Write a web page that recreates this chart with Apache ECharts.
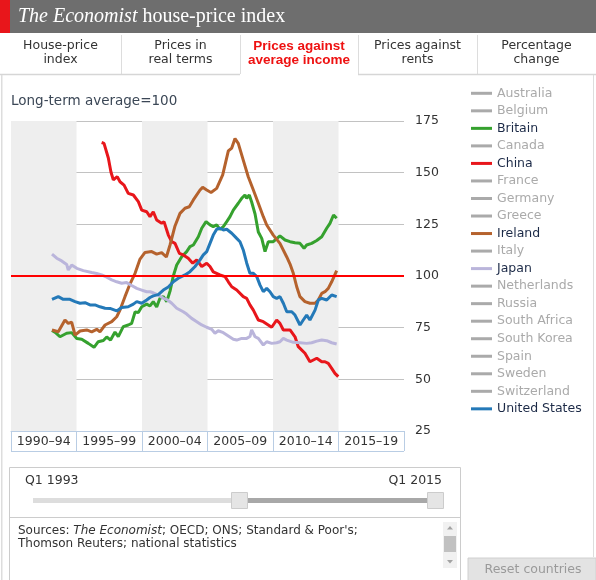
<!DOCTYPE html>
<html><head><meta charset="utf-8">
<script src="https://cdn.jsdelivr.net/npm/echarts@6/dist/echarts.min.js"></script>
<style>html,body{margin:0;padding:0;background:#fff}#c{width:596px;height:580px}</style>
</head><body><div id="c"></div>
<script>
const periodLabels = ['1990–94','1995–99','2000–04','2005–09','2010–14','2015–19'];
const yTicks = [25, 50, 75, 100, 125, 150, 175];
const shadedPeriods = [[1990, 1995], [2000, 2005], [2010, 2015]];
const countries = ['Australia','Belgium','Britain','Canada','China','France','Germany','Greece','Ireland','Italy','Japan','Netherlands','Russia','South Africa','South Korea','Spain','Sweden','Switzerland','United States'];
const activeColors = {'Britain':'#35a12e','China':'#e8161b','Ireland':'#b5622d','Japan':'#bab5db','United States':'#2479b8'};
const tabs = ['House-price\nindex','Prices in\nreal terms','Prices against\naverage income','Prices against\nrents','Percentage\nchange'];
const sliderLabels = ['Q1 1993','Q1 2015'];

const britain = [[1993.13,73.6],[1993.44,72.4],[1993.74,70.6],[1994.25,72.3],[1994.63,72.6],[1995.02,69.8],[1995.4,69.4],[1995.9,67.4],[1996.34,65.5],[1996.66,68.2],[1997.05,68.8],[1997.31,70.5],[1997.6,69.0],[1997.94,72.9],[1998.19,70.7],[1998.57,75.5],[1998.95,76.3],[1999.21,77.1],[1999.47,82.6],[1999.72,82.3],[1999.98,85.1],[2000.36,86.4],[2000.61,85.5],[2000.86,87.6],[2001.12,85.0],[2001.37,89.2],[2001.63,90.0],[2001.89,87.6],[2002.14,92.7],[2002.39,100.0],[2002.65,105.3],[2003.03,109.3],[2003.41,111.8],[2003.66,114.2],[2003.92,115.0],[2004.3,119.0],[2004.56,123.1],[2004.89,126.3],[2005.19,124.7],[2005.44,123.9],[2005.7,124.7],[2005.95,122.6],[2006.21,123.9],[2006.47,126.3],[2006.72,128.7],[2006.97,131.9],[2007.35,135.2],[2007.61,137.6],[2007.86,139.2],[2007.99,137.6],[2008.19,139.2],[2008.37,135.8],[2008.63,130.0],[2008.88,121.3],[2009.14,118.2],[2009.39,111.8],[2009.64,116.6],[2010.02,116.6],[2010.53,119.4],[2010.92,117.4],[2011.3,116.6],[2011.68,116.1],[2012.06,115.8],[2012.37,113.4],[2012.57,115.0],[2012.95,115.8],[2013.34,117.2],[2013.72,119.0],[2014.1,123.1],[2014.35,125.5],[2014.62,129.5],[2014.86,127.9]];

const china = [[1996.92,164.6],[1997.1,164.2],[1997.43,157.1],[1997.63,150.3],[1997.81,146.5],[1998.11,148.1],[1998.32,145.6],[1998.63,144.0],[1998.95,140.0],[1999.34,139.2],[1999.72,136.0],[1999.98,131.9],[2000.36,131.1],[2000.61,128.7],[2000.86,131.1],[2001.12,127.1],[2001.5,125.5],[2001.68,126.3],[2002.01,119.8],[2002.27,116.6],[2002.52,115.8],[2002.85,111.0],[2003.15,110.2],[2003.53,108.6],[2003.87,106.2],[2004.18,107.8],[2004.56,104.6],[2004.94,106.2],[2005.19,104.6],[2005.44,102.0],[2005.95,100.5],[2006.34,99.7],[2006.59,97.2],[2006.85,94.8],[2007.23,93.2],[2007.73,90.0],[2007.99,89.2],[2008.24,86.0],[2008.5,83.5],[2008.88,78.7],[2009.26,77.9],[2009.9,75.2],[2010.28,78.7],[2010.53,77.1],[2010.79,73.9],[2011.3,73.9],[2011.68,70.6],[2011.93,65.8],[2012.44,62.6],[2012.82,58.5],[2013.34,60.2],[2013.72,58.5],[2013.97,58.5],[2014.22,57.7],[2014.48,55.3],[2014.73,52.9],[2014.98,51.3]];

const ireland = [[1993.13,73.9],[1993.61,73.0],[1994.12,78.7],[1994.37,77.1],[1994.63,77.7],[1994.89,71.4],[1995.27,73.4],[1995.78,73.9],[1996.16,73.0],[1996.54,74.2],[1996.79,73.0],[1997.18,76.3],[1997.69,77.9],[1998.07,80.3],[1998.32,83.5],[1998.7,90.0],[1999.08,96.1],[1999.47,101.3],[1999.85,108.2],[2000.23,111.4],[2000.74,111.8],[2001.12,110.6],[2001.5,111.3],[2001.86,109.2],[2002.14,115.0],[2002.52,124.2],[2002.9,130.3],[2003.28,132.8],[2003.61,133.5],[2003.92,136.8],[2004.43,141.6],[2004.63,142.9],[2004.94,141.6],[2005.27,140.4],[2005.7,142.4],[2006.16,148.9],[2006.59,160.5],[2006.85,161.9],[2007.1,166.5],[2007.35,164.2],[2007.73,156.1],[2008.11,148.0],[2008.5,141.6],[2008.88,135.2],[2009.26,128.7],[2009.52,124.7],[2010.02,119.8],[2010.53,115.8],[2011.05,109.2],[2011.3,105.8],[2011.55,101.3],[2011.81,94.8],[2012.06,90.0],[2012.44,87.6],[2012.82,86.8],[2013.21,86.8],[2013.46,88.4],[2013.72,91.6],[2013.97,92.4],[2014.22,94.0],[2014.48,97.2],[2014.86,102.6]];

const japan = [[1993.13,110.6],[1993.49,108.6],[1993.87,107.3],[1994.25,105.6],[1994.37,102.9],[1994.63,105.3],[1995.02,103.7],[1995.52,102.6],[1996.16,101.7],[1996.54,101.2],[1996.92,100.5],[1997.31,99.4],[1997.69,98.1],[1998.07,97.2],[1998.45,96.5],[1998.83,96.8],[1999.21,95.4],[1999.6,94.0],[1999.98,93.2],[2000.36,92.4],[2000.61,92.4],[2000.86,91.9],[2001.24,90.8],[2001.63,89.2],[2001.95,88.4],[2002.27,86.8],[2002.65,84.4],[2003.15,82.7],[2003.41,81.6],[2003.79,79.5],[2004.18,77.9],[2004.56,76.3],[2004.94,75.2],[2005.32,74.2],[2005.57,72.3],[2005.82,73.5],[2006.21,72.6],[2006.59,71.0],[2006.97,69.4],[2007.23,69.0],[2007.61,69.8],[2007.99,69.8],[2008.24,70.7],[2008.37,73.9],[2008.63,70.6],[2008.88,69.8],[2009.26,66.6],[2009.52,68.2],[2009.9,67.4],[2010.28,67.7],[2010.53,68.2],[2010.79,69.8],[2011.05,69.0],[2011.55,67.9],[2012.06,67.7],[2012.57,67.4],[2012.95,67.7],[2013.34,68.5],[2013.72,69.0],[2014.1,68.7],[2014.48,67.7],[2014.86,67.1]];

const unitedStates = [[1993.13,88.7],[1993.61,90.0],[1993.99,88.7],[1994.5,88.7],[1994.89,87.6],[1995.27,86.8],[1995.65,87.1],[1996.03,86.0],[1996.41,86.0],[1996.79,85.1],[1997.18,84.4],[1997.56,84.3],[1998.07,83.1],[1998.45,84.8],[1998.95,85.1],[1999.34,86.4],[1999.6,87.6],[1999.98,86.8],[2000.36,88.4],[2000.61,89.6],[2000.86,90.4],[2001.24,91.0],[2001.63,93.2],[2002.01,94.7],[2002.39,97.2],[2002.77,98.9],[2003.28,100.5],[2003.66,102.1],[2004.05,104.6],[2004.43,107.8],[2004.68,110.2],[2004.94,111.8],[2005.19,115.8],[2005.44,119.8],[2005.7,122.6],[2005.95,123.1],[2006.21,122.3],[2006.47,122.6],[2006.85,120.7],[2007.23,118.2],[2007.48,116.6],[2007.73,112.6],[2007.99,106.3],[2008.24,101.3],[2008.5,101.3],[2008.76,99.7],[2009.01,95.6],[2009.26,92.4],[2009.52,94.0],[2009.77,92.4],[2010.02,90.0],[2010.28,89.2],[2010.53,90.0],[2010.79,86.8],[2011.05,82.7],[2011.43,82.7],[2011.68,81.1],[2012.06,76.3],[2012.31,78.7],[2012.57,81.1],[2012.82,78.7],[2013.21,83.5],[2013.46,88.4],[2013.72,89.2],[2014.1,88.4],[2014.48,90.8],[2014.86,90.0]];

const seriesData = {'Britain': britain, 'China': china, 'Ireland': ireland, 'Japan': japan, 'United States': unitedStates};

const FONT = 'DejaVu Sans';
const chart = echarts.init(document.getElementById('c'), null, {renderer: 'canvas'});

const series = [{
  name: '__bands', type: 'line', data: [], z: 0, silent: true,
  markArea: { silent: true, itemStyle: { color: '#eeeeee' },
    data: shadedPeriods.map(p => [{xAxis: p[0]}, {xAxis: p[1]}]) }
}, {
  name: '__avg', type: 'line', data: [], z: 2, silent: true,
  markLine: { silent: true, symbol: 'none', label: {show: false}, animation: false,
    lineStyle: { color: '#ff0000', width: 2, type: 'solid' }, data: [{yAxis: 100}] }
}];
countries.forEach(name => {
  const active = activeColors[name];
  series.push({
    name, type: 'line', data: seriesData[name] || [], color: active || '#aaaaaa',
    showSymbol: false, symbol: 'none', z: 3,
    lineStyle: { width: 3, color: active || '#aaaaaa' }
  });
});

const graphics = [];
graphics.push({type: 'rect', shape: {x: 0, y: 0, width: 596, height: 33}, style: {fill: '#6e6e6e'}, silent: true});
graphics.push({type: 'rect', shape: {x: 0, y: 0, width: 10, height: 33}, style: {fill: '#e8161b'}, silent: true});
graphics.push({type: 'text', x: 18, y: 17, silent: true, style: {
  text: '{i|The Economist} house-price index', fill: '#ffffff', font: '20px "Liberation Serif"',
  verticalAlign: 'middle', align: 'left',
  rich: { i: { fontStyle: 'italic', fontFamily: 'Liberation Serif', fontSize: 20, fill: '#ffffff' } } }});
const tabEdges = [0, 121, 240, 358, 477, 596];
for (let i = 1; i < 5; i++) {
  graphics.push({type: 'line', shape: {x1: tabEdges[i] + 0.5, y1: 35, x2: tabEdges[i] + 0.5, y2: 74}, style: {stroke: '#dddddd', lineWidth: 1}, silent: true});
}
graphics.push({type: 'line', shape: {x1: 0, y1: 74.5, x2: 240, y2: 74.5}, style: {stroke: '#d6d6d6', lineWidth: 1.5}, silent: true});
graphics.push({type: 'line', shape: {x1: 358, y1: 74.5, x2: 596, y2: 74.5}, style: {stroke: '#d6d6d6', lineWidth: 1.5}, silent: true});
tabs.forEach((t, i) => {
  const active = i === 2;
  graphics.push({type: 'text', x: (tabEdges[i] + tabEdges[i + 1]) / 2, y: 39, silent: true, style: {
    text: t, align: 'center', verticalAlign: 'top', lineHeight: 14,
    fill: active ? '#ee1111' : '#333333',
    font: active ? 'bold 13.5px "Liberation Sans"' : '12.5px "DejaVu Sans"' }});
});
graphics.push({type: 'rect', shape: {x: 1, y: 75, width: 1.5, height: 505}, style: {fill: '#dddddd'}, silent: true});
graphics.push({type: 'line', shape: {x1: 593.5, y1: 75, x2: 593.5, y2: 557}, style: {stroke: '#dddddd', lineWidth: 1}, silent: true});
graphics.push({type: 'text', x: 11, y: 101, silent: true, style: {text: 'Long-term average=100', fill: '#3b4756', font: '13.5px "DejaVu Sans"', verticalAlign: 'middle'}});
graphics.push({type: 'line', shape: {x1: 11, y1: 451.5, x2: 404, y2: 451.5}, style: {stroke: '#b9cde4', lineWidth: 1}, silent: true});
graphics.push({type: 'rect', shape: {x: 9.5, y: 467.5, width: 451, height: 120}, style: {fill: 'none', stroke: '#cccccc', lineWidth: 1}, silent: true});
graphics.push({type: 'line', shape: {x1: 9.5, y1: 517.5, x2: 460.5, y2: 517.5}, style: {stroke: '#cccccc', lineWidth: 1}, silent: true});
graphics.push({type: 'text', x: 25, y: 481, silent: true, style: {text: sliderLabels[0], fill: '#333', font: '12.5px "DejaVu Sans"', verticalAlign: 'middle'}});
graphics.push({type: 'text', x: 442, y: 481, silent: true, style: {text: sliderLabels[1], fill: '#333', font: '12.5px "DejaVu Sans"', verticalAlign: 'middle', align: 'right'}});
graphics.push({type: 'rect', shape: {x: 33, y: 498, width: 200, height: 5}, style: {fill: '#dddddd'}, silent: true});
graphics.push({type: 'rect', shape: {x: 247, y: 498, width: 181, height: 5}, style: {fill: '#a8a8a8'}, silent: true});
graphics.push({type: 'rect', shape: {x: 231.5, y: 492.5, width: 16, height: 16}, style: {fill: '#e5e5e5', stroke: '#cccccc', lineWidth: 1}, silent: true});
graphics.push({type: 'rect', shape: {x: 427.5, y: 492.5, width: 16, height: 16}, style: {fill: '#e5e5e5', stroke: '#cccccc', lineWidth: 1}, silent: true});
graphics.push({type: 'text', x: 18, y: 525, silent: true, style: {
  text: 'Sources: {i|The Economist}; OECD; ONS; Standard & Poor\'s;\nThomson Reuters; national statistics',
  fill: '#333', font: '12px "DejaVu Sans"', lineHeight: 12.5, verticalAlign: 'top',
  rich: { i: { fontStyle: 'italic', fontFamily: 'DejaVu Sans', fontSize: 12, fill: '#333', lineHeight: 12.5 } } }});
graphics.push({type: 'rect', shape: {x: 443, y: 522, width: 14, height: 46}, style: {fill: '#f1f1f1'}, silent: true});
graphics.push({type: 'polygon', shape: {points: [[447, 529.5], [453, 529.5], [450, 526]]}, style: {fill: '#a3a3a3'}, silent: true});
graphics.push({type: 'rect', shape: {x: 444, y: 536, width: 12, height: 16}, style: {fill: '#c1c1c1'}, silent: true});
graphics.push({type: 'polygon', shape: {points: [[447, 560], [453, 560], [450, 563.5]]}, style: {fill: '#a3a3a3'}, silent: true});
graphics.push({type: 'rect', shape: {x: 468, y: 558, width: 128, height: 24}, style: {fill: '#e3e3e3', stroke: '#d0d0d0', lineWidth: 1}, silent: true});
graphics.push({type: 'text', x: 533, y: 570, silent: true, style: {text: 'Reset countries', fill: '#9a9a9a', font: '12.5px "DejaVu Sans"', align: 'center', verticalAlign: 'middle'}});

chart.setOption({
  animation: false,
  backgroundColor: '#ffffff',
  grid: { left: 11, top: 121, width: 393, height: 310, containLabel: false },
  xAxis: [{
    type: 'value', min: 1990, max: 2020, interval: 5, show: false, splitLine: {show: false}
  }, {
    type: 'category', data: periodLabels, position: 'bottom', z: 1, boundaryGap: true,
    axisLine: { show: true, lineStyle: { color: '#b9cde4', width: 1 } },
    axisTick: { show: true, length: 20, interval: 0, alignWithLabel: false, lineStyle: { color: '#b9cde4', width: 1 } },
    axisLabel: { interval: 0, margin: 4, color: '#333', fontFamily: FONT, fontSize: 12.5 },
    splitLine: {show: false}
  }],
  yAxis: {
    type: 'value', min: yTicks[0], max: yTicks[yTicks.length - 1], interval: 25, position: 'right', z: 1,
    axisLine: {show: false}, axisTick: {show: false},
    axisLabel: { margin: 11, color: '#333', fontFamily: FONT, fontSize: 12.5 },
    splitLine: { show: true, lineStyle: { color: '#c2c2c2', width: 1 } }
  },
  legend: {
    orient: 'vertical', left: 471, top: 86.3, padding: 0, itemWidth: 21, itemHeight: 3, itemGap: 3.53,
    icon: 'rect', selectedMode: false,
    textStyle: { fontFamily: FONT, fontSize: 12.5, lineHeight: 14, color: '#aaaaaa' },
    data: countries.map(n => ({ name: n, textStyle: { color: activeColors[n] ? '#1c2a47' : '#aaaaaa' } }))
  },
  graphic: graphics,
  series
});
</script></body></html>
